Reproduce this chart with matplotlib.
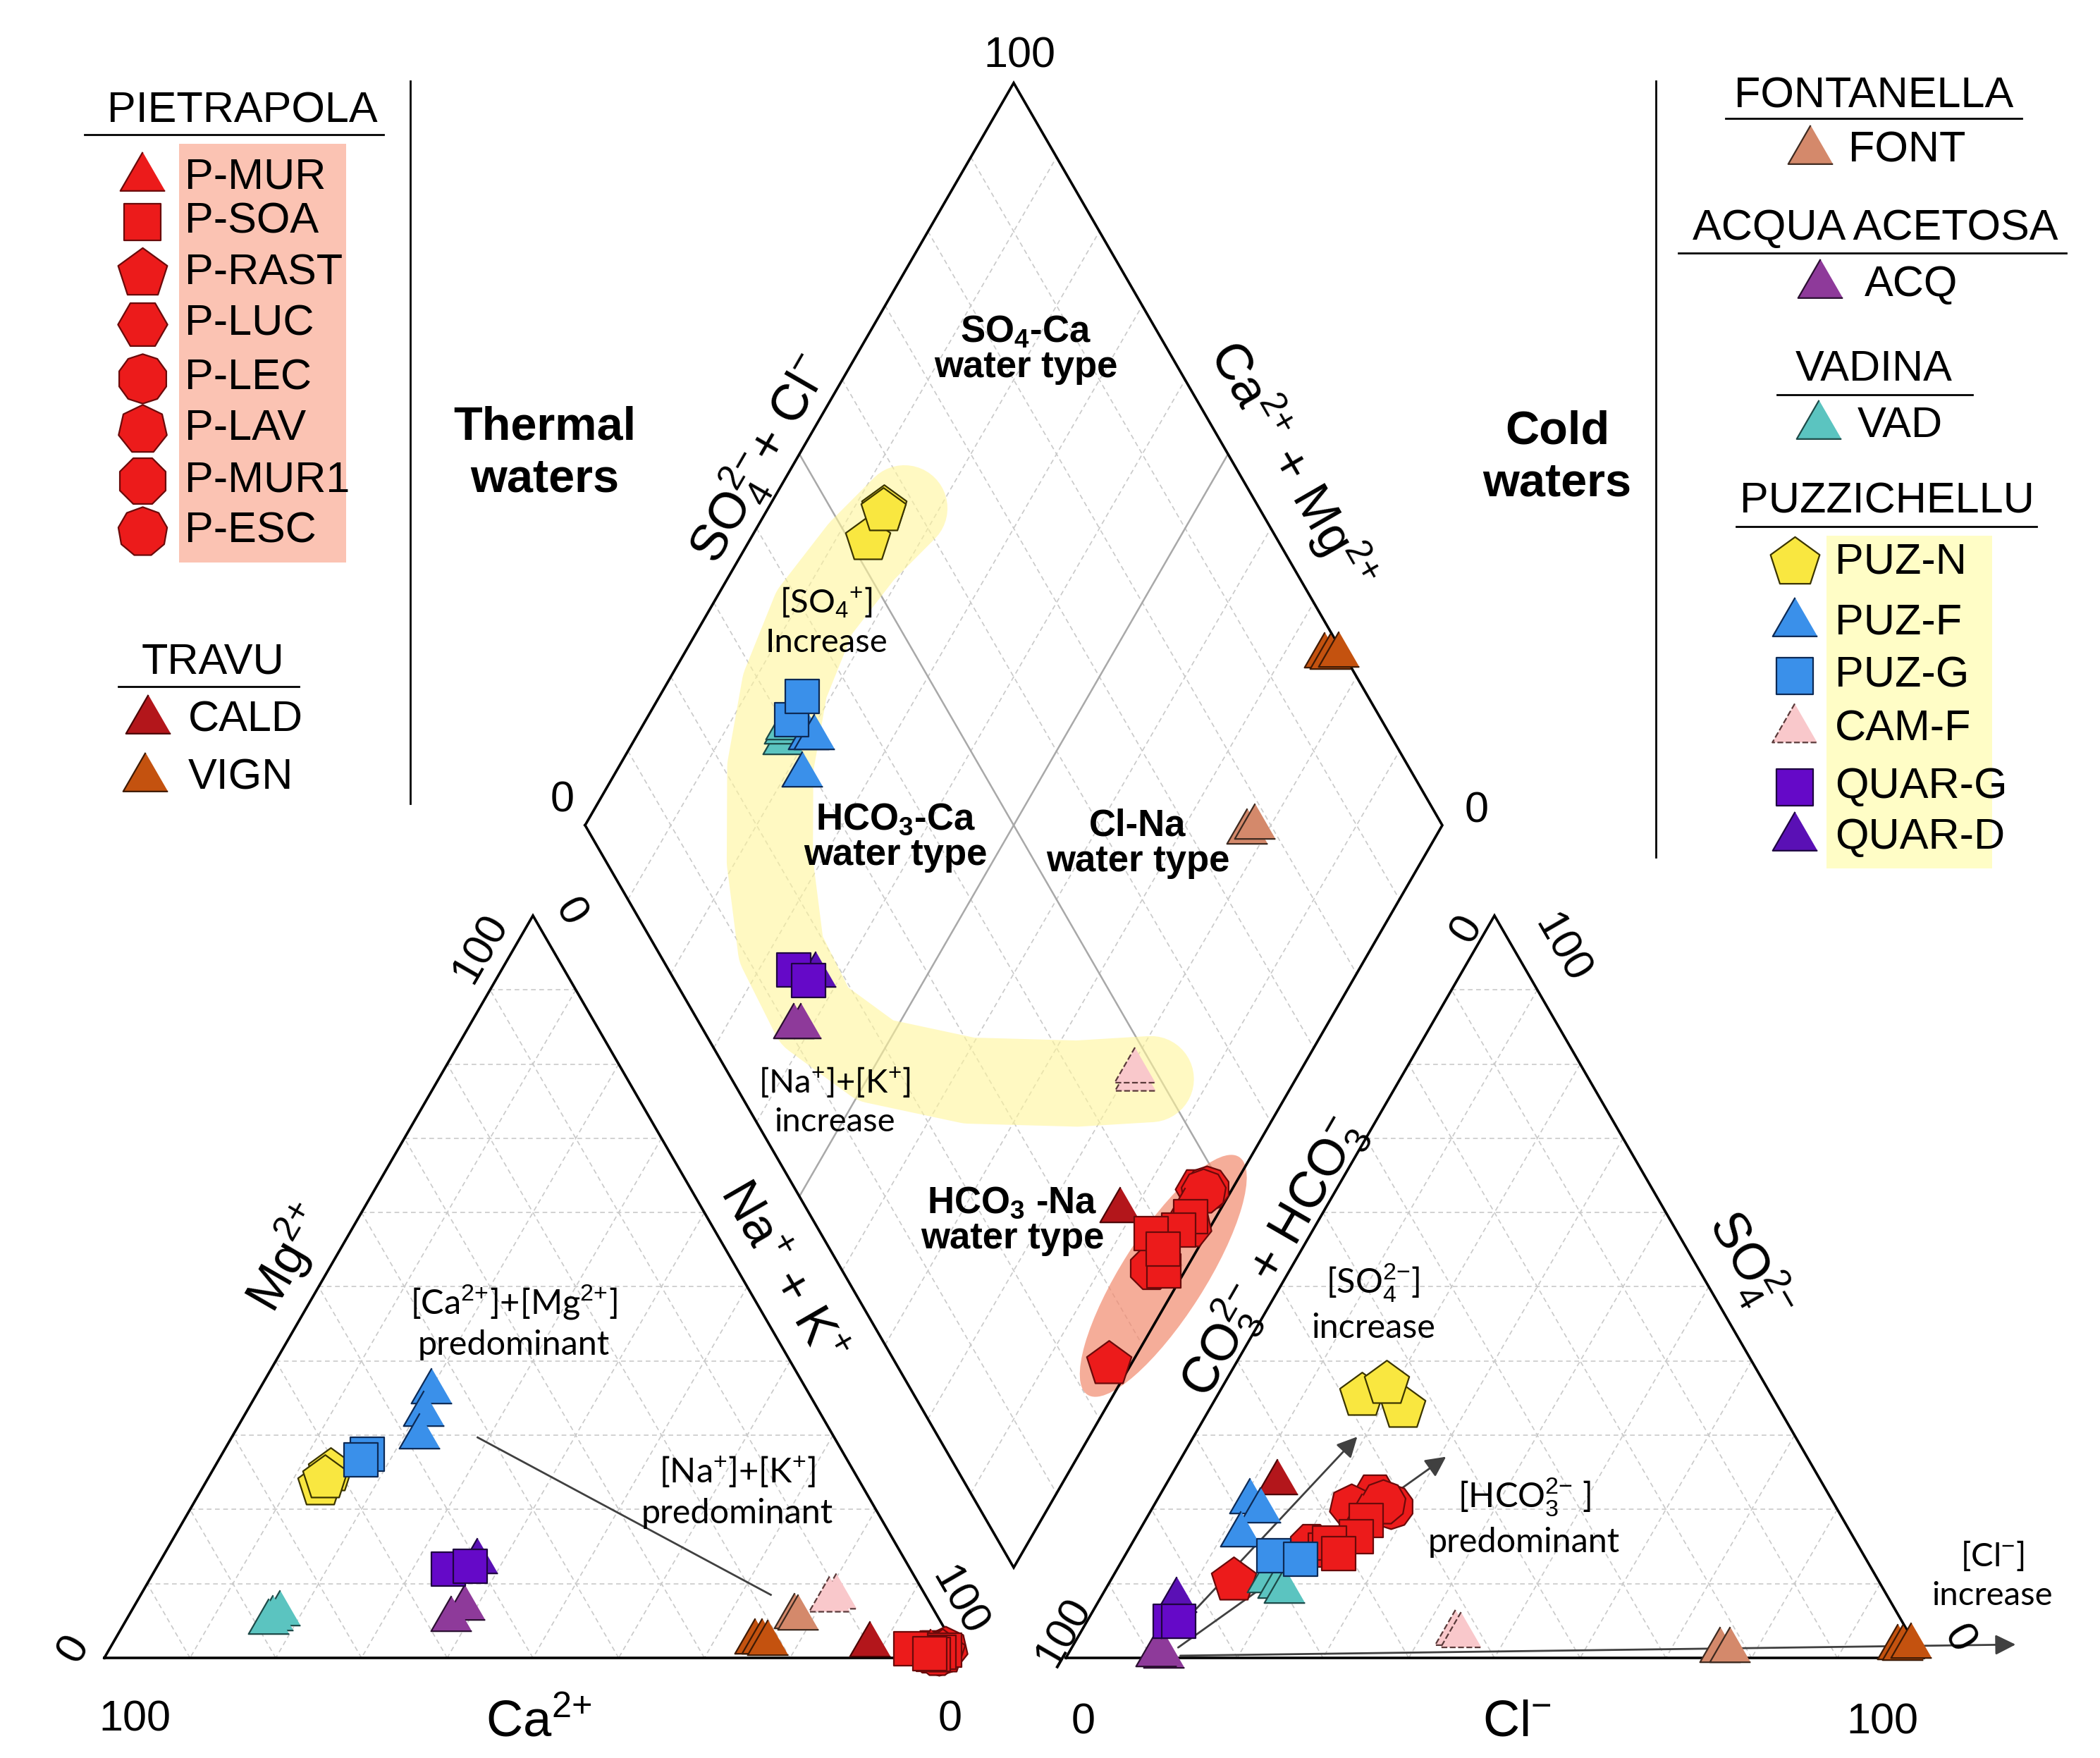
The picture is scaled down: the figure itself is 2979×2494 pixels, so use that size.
import numpy as np
import matplotlib.pyplot as plt
from matplotlib.patches import Ellipse, Rectangle

plt.rcParams["font.family"] = ["Liberation Sans", "DejaVu Sans"]
plt.rcParams["mathtext.fontset"] = "custom"
plt.rcParams["mathtext.rm"] = "Liberation Sans"
plt.rcParams["mathtext.it"] = "Liberation Sans:italic"
plt.rcParams["mathtext.bf"] = "Liberation Sans:bold"

# ---- data: one entry per water sample -------------------------------------
# cations in % meq (Ca = 100 - Mg - NaK), anions in % meq (HCO3 = 100 - SO4 - Cl)
sample = ["P-LUC", "P-LEC", "P-LAV", "P-MUR1", "P-ESC", "P-RAST", "CALD", "P-MUR",
          "P-SOA", "P-SOA", "P-SOA", "P-SOA", "P-SOA",
          "VIGN", "VIGN", "VIGN", "FONT", "FONT", "CAM-F", "CAM-F",
          "VAD", "VAD", "VAD", "ACQ", "ACQ", "QUAR-D", "QUAR-G", "QUAR-G",
          "PUZ-N", "PUZ-N", "PUZ-N", "PUZ-F", "PUZ-F", "PUZ-F", "PUZ-G", "PUZ-G"]
mg = [1.0, 0.7, 1.2, 0.9, 0.6, 0.8, 1.8, 0.8,
      1.0, 0.8, 0.5, 1.2, 0.6,
      2.2, 2.2, 2.0, 5.6, 5.4, 8.2, 7.8,
      6.0, 5.3, 4.8, 6.7, 5.2, 13.0, 12.0, 12.3,
      25.2, 23.3, 24.2, 35.9, 32.9, 29.8, 27.4, 26.7]
nak = [96.0, 97.0, 97.5, 95.9, 96.8, 97.4, 88.4, 96.0,
       97.5, 97.0, 96.5, 93.5, 96.0,
       74.8, 75.6, 76.4, 77.7, 78.2, 81.3, 80.7,
       17.5, 17.0, 16.8, 38.7, 37.9, 37.0, 34.1, 36.5,
       13.8, 13.5, 13.6, 20.2, 20.8, 21.9, 17.0, 16.6]
so4 = [22.0, 20.4, 20.4, 15.2, 21.0, 10.4, 23.6, 19.0,
       14.5, 18.5, 16.3, 15.5, 14.1,
       1.4, 1.3, 1.6, 1.0, 1.0, 3.3, 3.0,
       10.4, 9.7, 9.0, 0.3, 0.5, 7.8, 4.9, 4.9,
       35.3, 33.7, 36.9, 21.1, 19.8, 16.6, 13.8, 13.3]
cl = [25.0, 27.7, 23.1, 21.0, 26.5, 14.4, 12.9, 25.0,
      23.0, 25.8, 25.7, 23.0, 24.8,
      96.3, 97.0, 97.8, 75.8, 77.0, 43.8, 44.6,
      18.3, 19.9, 21.0, 11.3, 10.3, 9.0, 9.7, 10.7,
      16.9, 22.5, 19.0, 10.9, 12.8, 12.1, 17.4, 20.7]

# trend band through the Puzzichellu waters, diamond coords (Na+K %, SO4+Cl %)
band_nak = [15.9, 13.8, 12.4, 13.9, 17.7, 24.0, 31.2, 39.6, 49.7, 62.0, 74.8, 83.1]
band_so4cl = [58.6, 50.7, 41.1, 32.7, 25.5, 19.1, 14.5, 13.9, 18.0, 27.6, 40.0, 48.9]

# ---- geometry (pixels of the output image) --------------------------------
W, H, DPI = 2979, 2494, 200
X0, Y0 = 148, 2352      # lower-left corner of the cation triangle
L = 1216                # side of triangles and diamond
GAP = 148
HF = np.sqrt(3) / 2


def cat_xy(m, n):
    return X0 + L * (np.asarray(n) + np.asarray(m) / 2) / 100, Y0 - L * HF * np.asarray(m) / 100


def an_xy(s, c):
    return X0 + L + GAP + L * (np.asarray(c) + np.asarray(s) / 2) / 100, Y0 - L * HF * np.asarray(s) / 100


def dia_xy(n, sc):
    lx, ly = X0 + L / 2 + GAP / 2, Y0 - (L + GAP) * HF
    n, sc = np.asarray(n), np.asarray(sc)
    return lx + L / 2 * (n + sc) / 100, ly + L * HF * (n - sc) / 100


RED, RED_E = "#ec1b1b", "#6a0a0a"
TRI = [(0, 1), (-0.866, -0.5), (0.866, -0.5)]
STYLE = {
    "P-MUR": dict(marker=TRI, size=24, fc=RED, ec=RED_E),
    "P-SOA": dict(marker="s", size=17, fc=RED, ec=RED_E),
    "P-RAST": dict(marker="p", size=24, fc=RED, ec=RED_E),
    "P-LUC": dict(marker="H", size=23, fc=RED, ec=RED_E),
    "P-LEC": dict(marker=(10, 0, 0), size=23, fc=RED, ec=RED_E),
    "P-LAV": dict(marker=(7, 0, 0), size=23, fc=RED, ec=RED_E),
    "P-MUR1": dict(marker="8", size=23, fc=RED, ec=RED_E),
    "P-ESC": dict(marker=(9, 0, 0), size=23, fc=RED, ec=RED_E),
    "CALD": dict(marker=TRI, size=24, fc="#b3161b", ec="#4a0505"),
    "VIGN": dict(marker=TRI, size=24, fc="#c4520f", ec="#3d1a05"),
    "FONT": dict(marker=TRI, size=24, fc="#d4896b", ec="#3d2a20"),
    "ACQ": dict(marker=TRI, size=24, fc="#8e3a9a", ec="#2a0f30"),
    "VAD": dict(marker=TRI, size=24, fc="#5bc4c0", ec="#1d4a48"),
    "PUZ-N": dict(marker="p", size=24, fc="#f9e740", ec="#3a3400"),
    "PUZ-F": dict(marker=TRI, size=24, fc="#3a90ea", ec="#0d2a55"),
    "PUZ-G": dict(marker="s", size=17, fc="#3a90ea", ec="#0d2a55"),
    "CAM-F": dict(marker=TRI, size=24, fc="#f9c8cb", ec="#5a3a3a", ls="--"),
    "QUAR-G": dict(marker="s", size=17, fc="#6509c8", ec="#1e0540"),
    "QUAR-D": dict(marker=TRI, size=24, fc="#5a10b5", ec="#1e0540"),
}

GRID = dict(color="#c9c9c9", lw=0.6, ls=(0, (4, 3)), zorder=1)
OUT = dict(color="black", lw=1.3, zorder=2.5, solid_joinstyle="miter")

fig = plt.figure(figsize=(W / DPI, H / DPI), dpi=DPI)
ax = fig.add_axes([0, 0, 1, 1])
ax.set_xlim(0, W)
ax.set_ylim(H, 0)
ax.axis("off")


def tri_grid(corners):
    A, B, C = [np.array(p, dtype=float) for p in corners]
    for t in np.arange(0.1, 0.95, 0.1):
        for v, p, q in ((A, B, C), (B, C, A), (C, A, B)):
            p1, p2 = t * v + (1 - t) * p, t * v + (1 - t) * q
            ax.plot([p1[0], p2[0]], [p1[1], p2[1]], **GRID)
    ax.plot([A[0], B[0], C[0], A[0]], [A[1], B[1], C[1], A[1]], **OUT)


tri_grid([cat_xy(0, 0), cat_xy(0, 100), cat_xy(100, 0)])
tri_grid([an_xy(0, 0), an_xy(0, 100), an_xy(100, 0)])

for k in range(10, 100, 10):
    xa, ya = dia_xy([k, k], [0, 100])
    ax.plot(xa, ya, **GRID)
    xb, yb = dia_xy([0, 100], [k, k])
    ax.plot(xb, yb, **GRID)
# the two lines splitting the diamond into water types
xa, ya = dia_xy([50, 50], [0, 100])
ax.plot(xa, ya, color="#a9a9a9", lw=0.9, zorder=1.2)
xb, yb = dia_xy([0, 100], [50, 50])
ax.plot(xb, yb, color="#a9a9a9", lw=0.9, zorder=1.2)
dx, dy = dia_xy([0, 100, 100, 0, 0], [0, 0, 100, 100, 0])
ax.plot(dx, dy, **OUT)

# highlighted groups
bx, by = dia_xy(band_nak, band_so4cl)
ax.plot(bx, by, color="#fff59a", alpha=0.6, lw=44, solid_capstyle="round",
        solid_joinstyle="round", zorder=1.5)
ex, ey = dia_xy(97.8, 37.1)
ax.add_patch(Ellipse((ex, ey), 400, 118, angle=-57.5, fc="#f28a6e", alpha=0.7,
                     ec="none", zorder=1.6))

# samples
cx, cy = cat_xy(mg, nak)
ax_, ay_ = an_xy(so4, cl)
tot = np.array(so4) + np.array(cl)
qx, qy = dia_xy(nak, tot)
names = np.array(sample)
order = list(dict.fromkeys(sample))
for z, g in enumerate(order):
    st = STYLE[g]
    idx = np.where(names == g)[0]
    for px, py in ((cx, cy), (ax_, ay_), (qx, qy)):
        ax.scatter(px[idx], py[idx], s=st["size"] ** 2, marker=st["marker"], c=st["fc"],
                   edgecolors=st["ec"], linewidths=0.8, linestyles=st.get("ls", "-"),
                   zorder=4 + z * 0.01)

# arrows and guide line
ARW = dict(arrowstyle="-|>", color="#404040", lw=1.0, mutation_scale=22, shrinkA=0, shrinkB=0)
ax.annotate("", xy=an_xy(29.8, 19.1), xytext=an_xy(6.6, 11.9), arrowprops=ARW, zorder=3.5)
ax.annotate("", xy=an_xy(27.1, 30.8), xytext=an_xy(1.4, 12.4), arrowprops=ARW, zorder=3.5)
ax.annotate("", xy=an_xy(1.8, 109.9), xytext=an_xy(0.3, 13.2), arrowprops=ARW, zorder=3.5)
lx, ly = cat_xy([29.7, 8.5], [28.7, 73.5])
ax.plot(lx, ly, color="#404040", lw=1.0, zorder=3.5)


def label(x, y, s, size=22, rot=0, **kw):
    ax.text(x, y, s, fontsize=size, rotation=rot, ha="center", va="center",
            rotation_mode="anchor", zorder=6, **kw)


# charge strings without operator spacing
P2, M2, P1, M1 = "^{2{+}}", "^{2{-}}", "^{{+}}", "^{{-}}"

# scale numbers
label(1446, 80, "100")
label(798, 1136, "0")
label(2095, 1151, "0")
label(191, 2440, "100")
label(1348, 2440, "0")
label(105, 2339, "0", rot=60)
label(682, 1346, "100", rot=60)
label(808, 1295, "0", rot=-60)
label(1360, 2272, "100", rot=-60)
label(1537, 2444, "0")
label(2670, 2444, "100")
label(2081, 1318, "0", rot=60)
label(2215, 1346, "100", rot=-60)
label(1509, 2316, "100", rot=60)
label(2778, 2326, "0", rot=-60)

# axis titles
label(1079, 652, "SO$_4" + M2 + "$+ Cl$" + M1 + "$", 26, 60)
label(1833, 659, "Ca$" + P2 + "$ + Mg$" + P2 + "$", 26, -60)
label(407, 1785, "Mg$" + P2 + "$", 26, 60)
label(1108, 1805, "Na$" + P1 + "$ + K$" + P1 + "$", 26, -60)
label(764, 2444, "Ca$" + P2 + "$", 26)
label(1805, 1785, "CO$_3" + M2 + "$ + HCO$_3" + M1 + "$", 26, 60)
label(2482, 1795, "SO$_4" + M2 + "$", 26, -60)
label(2152, 2444, "Cl$" + M1 + "$", 26)

# water types
WT = dict(fontweight="bold", linespacing=1.0)
label(1455, 496, "SO$_\\mathbf{4}$-Ca\nwater type", 19, **WT)
label(1270, 1188, "HCO$_\\mathbf{3}$-Ca\nwater type", 19, **WT)
label(1614, 1197, "Cl-Na\nwater type", 19, **WT)
label(1436, 1732, "HCO$_\\mathbf{3}$ -Na\nwater type", 19, **WT)
label(773, 644, "Thermal\nwaters", 24, fontweight="bold", linespacing=1.25)
label(2209, 649, "Cold\nwaters", 24, fontweight="bold", linespacing=1.25)

# trend notes
NT = dict(family=["Lato", "DejaVu Sans"], linespacing=1.35)
label(1172, 882, "[SO$_4$$" + P1 + "$]\nIncrease", 17, **NT)
label(1184, 1562, "[Na$" + P1 + "$]+[K$" + P1 + "$]\nincrease", 17, **NT)
label(729, 1875, "[Ca$" + P2 + "$]+[Mg$" + P2 + "$]\npredominant", 17.5, **NT)
label(1046, 2116, "[Na$" + P1 + "$]+[K$" + P1 + "$]\npredominant", 17.5, **NT)
label(1948, 1848, "[SO$_4" + M2 + "$]\nincrease", 17.5, **NT)
label(2162, 2152, "[HCO$_3" + M2 + "$ ]\npredominant", 17.5, **NT)
label(2826, 2234, "[Cl$" + M1 + "$]\nincrease", 17, **NT)

# ---- legends ----------------------------------------------------------------
ax.plot([582, 582], [115, 1140], color="black", lw=1.0)
ax.plot([2349, 2349], [115, 1216], color="black", lw=1.0)
ax.add_patch(Rectangle((254, 204), 237, 594, fc="#fbc3b3", ec="none", zorder=1))
ax.add_patch(Rectangle((2591, 760), 235, 472, fc="#fffdc6", ec="none", zorder=1))


def heading(x, y, txt, x1, x2, yl):
    label(x, y, txt, 22)
    ax.plot([x1, x2], [yl, yl], color="black", lw=1.0)


def entry(g, mx, tx, y, big=1.1):
    st = STYLE[g]
    ax.scatter([mx], [y], s=(st["size"] * big) ** 2, marker=st["marker"], c=st["fc"],
               edgecolors=st["ec"], linewidths=0.8, linestyles=st.get("ls", "-"), zorder=5)
    ax.text(tx, y, g, fontsize=22, ha="left", va="center", zorder=6)


heading(344, 158, "PIETRAPOLA", 120, 544, 191)
for g, y in zip(["P-MUR", "P-SOA", "P-RAST", "P-LUC", "P-LEC", "P-LAV", "P-MUR1", "P-ESC"],
                [252, 315, 388, 460, 537, 609, 682, 754]):
    entry(g, 202, 262, y)
heading(302, 940, "TRAVU", 168, 424, 974)
entry("CALD", 210, 267, 1022)
entry("VIGN", 206, 267, 1104)

heading(2658, 137, "FONTANELLA", 2448, 2868, 168)
entry("FONT", 2568, 2622, 214)
heading(2660, 325, "ACQUA ACETOSA", 2381, 2931, 359)
entry("ACQ", 2582, 2645, 404)
heading(2658, 525, "VADINA", 2521, 2798, 560)
entry("VAD", 2580, 2635, 604)
heading(2677, 712, "PUZZICHELLU", 2463, 2889, 747)
for g, y in zip(["PUZ-N", "PUZ-F", "PUZ-G", "CAM-F", "QUAR-G", "QUAR-D"],
                [798, 884, 959, 1035, 1117, 1188]):
    entry(g, 2546, 2603, y)

fig.savefig("out.png", dpi=DPI)
